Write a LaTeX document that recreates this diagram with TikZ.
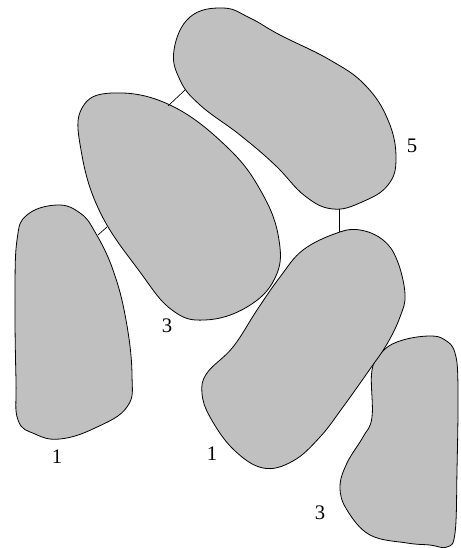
\documentclass[tikz,border=0pt]{standalone}
\usepackage{fontspec}
\setmainfont{Liberation Serif}
\usepackage{xcolor}
\usetikzlibrary{positioning}
\definecolor{blobfill}{RGB}{192,192,192}

\begin{document}
\begin{tikzpicture}[
  x=0.75pt, y=-0.75pt,
  blob/.style={draw=black,fill=blobfill,line width=0.6pt},
  link/.style={draw=black,line width=0.5pt},
  lbl/.style={font=\fontsize{15.5}{18}\selectfont,inner sep=0pt}]

\useasboundingbox (0,0) rectangle (460,548);

% bottom right region (drawn first, partly hidden)
\path[blob] plot[smooth cycle,tension=0.65] coordinates {
  (430,336) (403,340) (384,350) (372,370) (372,417) (363,437) (347,463)
  (340,487) (347,510) (370,535) (407,543) (430,545) (447,547) (455,533)
  (457,470) (458,387) (455,353) (445,340)};

% top region
\path[blob] plot[smooth cycle,tension=0.7] coordinates {
  (223,8) (190,17) (174,50) (180,80) (200,105) (240,135) (275,165)
  (305,196) (333,209) (362,202) (388,185) (396,158) (388,120) (365,85)
  (330,60) (280,35) (250,18)};

% large middle region
\path[blob] plot[smooth cycle,tension=0.7] coordinates {
  (113,93) (170,105) (227,147) (262,193) (279,240) (275,278) (247,307)
  (205,320) (172,310) (140,272) (100,212) (81,150) (82,108)};

% left region
\path[blob] plot[smooth cycle,tension=0.7] coordinates {
  (57,205) (27,215) (17,240) (15,300) (16,380) (18,420) (35,434) (60,439)
  (95,428) (127,407) (132,375) (126,320) (113,270) (95,232) (80,213)};

% right middle region
\path[blob] plot[smooth cycle,tension=0.65] coordinates {
  (360,230) (337,233) (303,250) (280,277) (257,310) (233,347) (207,373)
  (202,393) (210,417) (233,449) (263,468) (293,461) (320,437) (343,407)
  (370,369) (387,344) (400,317) (405,294) (397,260) (383,240)};

% links between regions
\coordinate (topA) at (185,90);
\coordinate (midA) at (168,106);
\coordinate (midB) at (107,227);
\coordinate (leftB) at (98,235);
\coordinate (topC) at (339,209);
\coordinate (rightC) at (339,232);
\draw[link] (topA) -- (midA);
\draw[link] (midB) -- (leftB);
\draw[link] (topC) -- (rightC);

% weights
\node[lbl] (wtop) at (412,146) {5};
\node[lbl] (wmid) at (167,326) {3};
\node[lbl] (wleft) at (57,457) {1};
\node[lbl] (wright) at (212,454) {1};
\node[lbl] (wlow) at (320,513) {3};
\end{tikzpicture}
\end{document}
